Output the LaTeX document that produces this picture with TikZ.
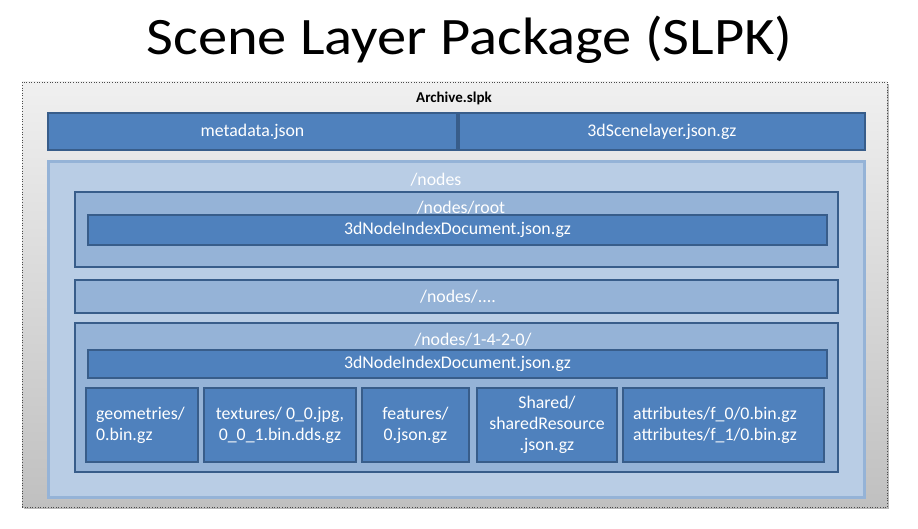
\documentclass[tikz,border=0pt]{standalone}
\usepackage{fontspec}
\setmainfont{Carlito}
\usetikzlibrary{shadows}
\definecolor{dblue}{HTML}{4F81BD}
\definecolor{bborder}{HTML}{385D8A}
\definecolor{mblue}{HTML}{95B3D7}
\definecolor{lblue}{HTML}{B9CDE5}
\definecolor{lborder}{HTML}{95B3D7}
\definecolor{gtop}{HTML}{F0F0F0}
\definecolor{gbot}{HTML}{C0C0C0}
\begin{document}
\begin{tikzpicture}[x=1pt,y=-1pt,
  txt/.style={text=white, font=\fontsize{17.8}{21}\selectfont, inner sep=0pt},
  dark/.style={draw=bborder, fill=dblue, line width=2.3pt, inner sep=0pt, txt},
  mid/.style={draw=bborder, fill=mblue, line width=2.3pt, inner sep=0pt},
  light/.style={draw=lborder, fill=lblue, line width=3pt, inner sep=0pt},
  archive/.style={draw=black!70, dotted, line width=0.6pt, top color=gtop, bottom color=gbot, inner sep=0pt,
    drop shadow={shadow xshift=2pt, shadow yshift=-2pt, opacity=0.45, fill=black!60}},
  lbl/.style={txt}
]
\useasboundingbox (0,0) rectangle (918,529);
\fill[white] (0,0) rectangle (918,529);

% title
\node[anchor=base, inner sep=0pt, font=\fontsize{58.5}{60}\selectfont] (title) at (469.5,55)
  {\scalebox{1}[0.9]{Scene Layer Package (SLPK)}};

% archive
\node[archive, minimum width=865pt, minimum height=425pt] (archive) at (454.5,294.5) {};
\node[inner sep=0pt, font=\fontsize{15}{18}\selectfont\bfseries] (archlbl) at (454,98) {Archive.slpk};

\node[dark, minimum width=409pt, minimum height=37pt] (meta) at (252.5,131.5) {metadata.json};
\node[dark, minimum width=406pt, minimum height=37pt] (scene) at (662,131.5) {3dScenelayer.json.gz};

% nodes
\node[light, minimum width=816pt, minimum height=335pt] (nodes) at (456,329.5) {};
\node[lbl] (nodeslbl) at (436,180) {/nodes};

\node[mid, minimum width=763pt, minimum height=75pt] (root) at (456.5,229.5) {};
\node[lbl] (rootlbl) at (461,208) {/nodes/root};
\node[dark, minimum width=739pt, minimum height=30pt] (rootdoc) at (457.5,230) {3dNodeIndexDocument.json.gz};

\node[mid, minimum width=763pt, minimum height=33pt] (dots) at (456.5,296.5) {};
\node[lbl] (dotslbl) at (458,297) {/nodes/....};

\node[mid, minimum width=763pt, minimum height=149pt] (leaf) at (456.5,397.5) {};
\node[lbl] (leaflbl) at (473,340) {/nodes/1-4-2-0/};
\node[dark, minimum width=739pt, minimum height=28pt] (leafdoc) at (457.5,364) {3dNodeIndexDocument.json.gz};

\node[dark, minimum width=112pt, minimum height=74pt] (geo) at (142,425) {};
\node[lbl, anchor=west, align=left] (geolbl) at (96,425) {geometries/\\0.bin.gz};

\node[dark, minimum width=152pt, minimum height=74pt, align=center] (tex) at (280,425) {textures/ 0\_0.jpg,\\0\_0\_1.bin.dds.gz};

\node[dark, minimum width=107pt, minimum height=74pt, align=center] (feat) at (415.5,425) {features/\\0.json.gz};

\node[dark, minimum width=140pt, minimum height=74pt, align=center] (shared) at (547,425) {Shared/\\sharedResource\\.json.gz};

\node[dark, minimum width=201pt, minimum height=74pt] (attr) at (723.5,425) {};
\node[lbl, anchor=west, align=left] (attrlbl) at (633,425) {attributes/f\_0/0.bin.gz\\attributes/f\_1/0.bin.gz};
\end{tikzpicture}
\end{document}
